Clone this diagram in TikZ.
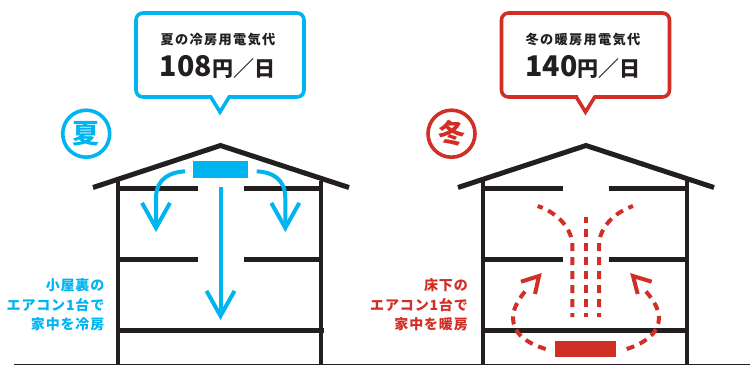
\documentclass[tikz,border=0pt]{standalone}
\usepackage{fontspec}
\usepackage{xcolor}
\usetikzlibrary{arrows.meta, positioning}
\newfontfamily\jpfont{Noto Sans CJK JP}
\definecolor{coolblue}{HTML}{00B5EF}
\definecolor{warmred}{HTML}{D12E26}
\definecolor{inkblack}{HTML}{231F20}
\tikzset{
    bubble/.style={
        rectangle,
        draw=#1,
        line width=3.6pt,
        rounded corners=7pt,
        minimum width=168pt,
        minimum height=84pt,
        fill=white
    },
    seasonmark/.style={
        circle,
        draw=#1,
        line width=3.6pt,
        minimum size=47pt,
        inner sep=0pt,
        text=#1,
        font=\jpfont\bfseries\fontsize{27}{27}\selectfont
    },
    costtitle/.style={
        text=inkblack,
        inner sep=0pt,
        font=\jpfont\bfseries\fontsize{13.2}{14}\selectfont\addfontfeatures{LetterSpace=10}
    },
    costvalue/.style={
        text=inkblack,
        inner sep=0pt,
        font=\jpfont\bfseries\fontsize{21}{24}\selectfont
    },
    note/.style={
        text=#1,
        inner sep=0pt,
        anchor=east,
        align=right,
        font=\jpfont\bfseries\fontsize{14}{19.6}\selectfont\addfontfeatures{LetterSpace=6}
    },
    roof/.style={
        draw=inkblack,
        line width=5pt,
        miter limit=10
    },
    wall/.style={
        draw=inkblack,
        line width=4.5pt
    },
    slab/.style={
        draw=inkblack,
        line width=5pt
    },
    aircon/.style={
        rectangle,
        fill=#1,
        inner sep=0pt
    },
    coolflow/.style={
        draw=coolblue,
        line width=4pt,
        -{Straight Barb[length=25pt,width=28pt]}
    },
    warmflow/.style={
        draw=warmred,
        line width=4pt,
        dash pattern=on 8pt off 6pt,
        dash phase=4pt
    },
    warmhead/.style={
        draw=warmred,
        line width=4pt,
        miter limit=10
    }
}

\begin{document}
\begin{tikzpicture}[x=1pt, y=-1pt]
\useasboundingbox (0,0) rectangle (750,365);

% Ground
\coordinate (groundL) at (14,364.5);
\coordinate (groundR) at (750,364.5);
\draw[inkblack, line width=1pt] (groundL) -- (groundR);

% Summer house
\draw[wall] (118,181) -- (118,364);
\draw[wall] (321,181) -- (321,364);
\draw[slab] (116,188.3) -- (198,188.3);
\draw[slab] (244,188.3) -- (323,188.3);
\draw[slab] (116,259.3) -- (198,259.3);
\draw[slab] (244,259.3) -- (323,259.3);
\draw[slab] (116,330.3) -- (323.5,330.3);
\draw[roof] (93,187.5) -- (220.5,145.5) -- (349,187.5);

% Winter house
\draw[wall] (483,181) -- (483,364);
\draw[wall] (687,181) -- (687,364);
\draw[slab] (481,188.3) -- (563,188.3);
\draw[slab] (609,188.3) -- (689,188.3);
\draw[slab] (481,259.3) -- (563,259.3);
\draw[slab] (609,259.3) -- (689,259.3);
\draw[slab] (481,330.3) -- (689,330.3);
\draw[roof] (458,187.5) -- (586,145.5) -- (714,187.5);

% Speech bubbles
\node[bubble=coolblue] (bubbleS) at (220,55) {};
\node[bubble=warmred] (bubbleW) at (585.5,55) {};
\fill[white] (212,95) rectangle (228,99);
\fill[white] (577.5,95) rectangle (593.5,99);
\draw[draw=coolblue, line width=3.6pt, miter limit=10] (210.5,96.5) -- (220,112) -- (229.5,96.5);
\draw[draw=warmred, line width=3.6pt, miter limit=10] (576,96.5) -- (585.5,112) -- (595,96.5);

\node[costtitle] (titleS) at (218,40) {夏の冷房用電気代};
\node[costvalue] (valueS) at (217.5,66.5) {{\fontsize{28.5}{28}\selectfont 108}円／日};
\node[costtitle] (titleW) at (583,40) {冬の暖房用電気代};
\node[costvalue] (valueW) at (583,66.5) {{\fontsize{28.5}{28}\selectfont 140}円／日};

% Season marks
\node[seasonmark=coolblue] (markS) at (86.2,133.7) {夏};
\node[seasonmark=warmred] (markW) at (451.5,133.7) {冬};

% Air conditioners
\node[aircon=coolblue, minimum width=55pt, minimum height=17pt] (acS) at (220.5,169.5) {};
\node[aircon=warmred, minimum width=61pt, minimum height=16pt] (acW) at (585.5,349) {};

% Summer flows
\coordinate (outC) at (220.5,187);
\coordinate (inC) at (220.5,320);
\coordinate (outL) at (185,171.3);
\coordinate (inL) at (156,232);
\coordinate (outR) at (256.7,171.3);
\coordinate (inR) at (285.3,232);
\draw[coolflow] (outC) -- (inC);
\draw[coolflow] (outL) .. controls (171,172) and (156,178) .. (156,198) -- (inL);
\draw[coolflow] (outR) .. controls (271,172) and (285.3,178) .. (285.3,198) -- (inR);

% Winter flows, rising
\coordinate (riseC1) at (586,317);
\coordinate (riseC2) at (586,217);
\coordinate (riseL1) at (572.3,317);
\coordinate (riseL2) at (537.7,206);
\coordinate (riseR1) at (599,317);
\coordinate (riseR2) at (633,206);
\draw[warmflow] (riseC1) -- (riseC2);
\draw[warmflow] (riseL1) -- (572.3,243) .. controls (570,225) and (555,212) .. (riseL2);
\draw[warmflow] (riseR1) -- (599,243) .. controls (601,225) and (616,212) .. (riseR2);

% Winter flows, loops from the unit
\coordinate (loopL1) at (545.7,349);
\coordinate (loopL2) at (528,288);
\coordinate (tipL) at (539,276);
\coordinate (loopR1) at (626.7,349);
\coordinate (loopR2) at (643,288);
\coordinate (tipR) at (633,276);
\draw[warmflow, dash phase=0pt] (loopL1) .. controls (526,343) and (513,333) .. (513,318) .. controls (513,308) and (519,298) .. (loopL2);
\draw[warmflow, dash phase=0pt] (loopR1) .. controls (645,343) and (659,333) .. (659,318) .. controls (659,308) and (652,298) .. (loopR2);
\draw[warmhead] (521,281.7) -- (tipL) -- (535,294);
\draw[warmhead] (651.7,281.7) -- (tipR) -- (637.7,294);

% Notes
\node[note=coolblue] (noteS) at (104.5,305) {小屋裏の\\エアコン1台で\\家中を冷房};
\node[note=warmred] (noteW) at (468,305) {床下の\\エアコン1台で\\家中を暖房};

\end{tikzpicture}
\end{document}
